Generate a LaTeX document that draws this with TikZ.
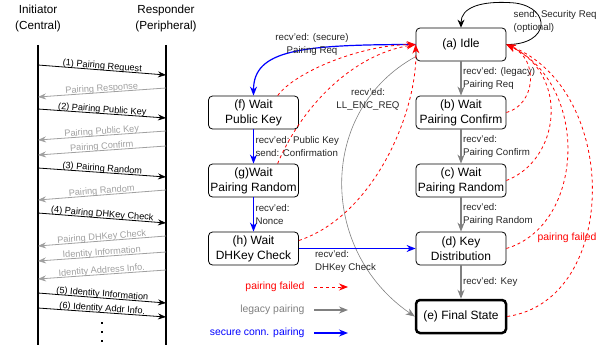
\documentclass[tikz,border=0pt]{standalone}
\usepackage{fontspec}
\setmainfont{Liberation Sans}
\usepackage{tikz}
\usepackage{xcolor}
\usetikzlibrary{arrows.meta}

\definecolor{failred}{HTML}{FF0000}
\definecolor{legacygray}{HTML}{808080}
\definecolor{secureblue}{HTML}{0000FF}
\definecolor{replygray}{HTML}{A0A0A0}

\begin{document}
\begin{tikzpicture}[x=1pt, y=-1pt, node distance=68pt,
    state/.style={rectangle, draw=black, line width=0.8pt, rounded corners=4pt, minimum width=90pt, minimum height=33pt, inner sep=1pt, align=center, font=\fontsize{12}{15}\selectfont},
    lbl/.style={align=left, inner sep=1.5pt, text=black!85, font=\fontsize{9.7}{13}\selectfont},
    title/.style={align=center, font=\fontsize{11.7}{16}\selectfont},
    legtxt/.style={anchor=east, font=\fontsize{10.4}{12}\selectfont},
    msg/.style={-{Stealth[length=8pt,width=6pt]}, line width=0.8pt},
    reply/.style={msg, replygray},
    msglbl/.style={sloped, above=-1pt, inner sep=0pt, font=\fontsize{9.2}{11}\selectfont},
    legacy/.style={-{Stealth[length=9pt,width=7pt]}, line width=1.2pt, legacygray},
    secure/.style={-{Stealth[length=9pt,width=7pt]}, line width=1.2pt, secureblue},
    fail/.style={-{Stealth[length=9pt,width=7pt]}, line width=0.8pt, failred, dash pattern=on 3pt off 3pt},
    lifeline/.style={line width=2pt}]
    \useasboundingbox (0,0) rectangle (605,345);

    % message sequence
    \node[title] (ini) at (38,18) {Initiator\\(Central)};
    \node[title] (resp) at (166,18) {Responder\\(Peripheral)};
    \coordinate (initop) at (38,45);
    \coordinate (inibot) at (38,345);
    \coordinate (resptop) at (166,45);
    \coordinate (respbot) at (166,345);
    \draw[lifeline] (initop) -- (inibot);
    \draw[lifeline] (resptop) -- (respbot);

    \draw[msg] (38,65) -- node[msglbl] {(1) Pairing Request} (166,75);
    \draw[reply] (166,88) -- node[msglbl] {Pairing Response} (38,97);
    \draw[msg] (38,109) -- node[msglbl] {(2) Pairing Public Key} (166,118);
    \draw[reply] (166,131) -- node[msglbl] {Pairing Public Key} (38,140);
    \draw[reply] (166,146) -- node[msglbl] {Pairing Confirm} (38,155);
    \draw[msg] (38,168) -- node[msglbl] {(3) Pairing Random} (166,177);
    \draw[reply] (166,190) -- node[msglbl] {Pairing Random} (38,200);
    \draw[msg] (38,213) -- node[msglbl] {(4) Pairing DHKey Check} (166,223);
    \draw[reply] (166,236) -- node[msglbl] {Pairing DHKey Check} (38,246);
    \draw[reply] (166,252) -- node[msglbl] {Identity Information} (38,261);
    \draw[reply] (166,270) -- node[msglbl] {Identity Address Info.} (38,279);
    \draw[msg] (38,293) -- node[msglbl] {(5) Identity Information} (166,303);
    \draw[msg] (38,308) -- node[msglbl] {(6) Identity Addr Info.} (166,317);
    \fill (101,322) rectangle (103,324);
    \fill (101,331) rectangle (103,333);
    \fill (101,340) rectangle (103,342);

    % state machine
    \node[state] (idle) at (461,44.5) {(a) Idle};
    \node[state] (waitconf) [below of=idle] {(b) Wait\\Pairing Confirm};
    \node[state] (waitrand) [below of=waitconf] {(c) Wait\\Pairing Random};
    \node[state] (keydist) [below of=waitrand] {(d) Key\\Distribution};
    \node[state, line width=2.5pt] (final) [below of=keydist] {(e) Final State};
    \node[state] (waitpk) at (253.5,112.5) {(f) Wait\\Public Key};
    \node[state] (waitnonce) [below of=waitpk] {(g)Wait\\Pairing Random};
    \node[state] (waitdh) [below of=waitnonce] {(h) Wait\\DHKey Check};

    \draw[-{Stealth[length=8pt,width=7pt]}, line width=0.8pt] (idle.east) .. controls (550,45) and (552,8) .. (515,3) .. controls (480,0) and (461,8) .. (idle.north);
    \node[lbl, anchor=west] (secreq) at (512,21) {send: Security Req\\(optional)};

    \draw[legacy] (idle) -- node[lbl, right] {recv'ed: (legacy)\\Pairing Req} (waitconf);
    \draw[legacy] (waitconf) -- node[lbl, right] {recv'ed:\\Pairing Confirm} (waitrand);
    \draw[legacy] (waitrand) -- node[lbl, right] {recv'ed:\\Pairing Random} (keydist);
    \draw[legacy] (keydist) -- node[lbl, right] {recv'ed: Key} (final);
    \draw[legacy, line width=0.6pt] (idle.195) .. controls (318,110) and (318,250) .. (final.west);
    \node[lbl, align=center] (encreq) at (368,99) {recv'ed:\\LL\_ENC\_REQ};

    \draw[secure] (idle.west) .. controls (300,44.5) and (253.5,50) .. (waitpk.north);
    \node[lbl, align=center] (securereq) at (312,44.5) {recv'ed: (secure)\\Pairing Req};
    \draw[secure] (waitpk) -- node[lbl, right] {recv'ed: Public Key\\send: Confirmation} (waitnonce);
    \draw[secure] (waitnonce) -- node[lbl, right] {recv'ed:\\Nonce} (waitdh);
    \draw[secure] (waitdh) -- node[lbl, below right, pos=0.12] {recv'ed:\\DHKey Check} (keydist);

    % pairing failed
    \draw[fail] (waitpk.35) .. controls (295,72) and (360,45) .. (idle.west);
    \draw[fail] (waitnonce.35) .. controls (300,110) and (350,55) .. (idle.west);
    \draw[fail] (waitdh.10) .. controls (375,215) and (418,110) .. (idle.west);
    \draw[fail] (waitconf.east) .. controls (535,105) and (540,60) .. (idle.east);
    \draw[fail] (waitrand.east) .. controls (560,160) and (570,75) .. (idle.east);
    \draw[fail] (keydist.east) .. controls (585,225) and (590,85) .. (idle.east);
    \draw[fail] (final.east) .. controls (620,300) and (620,90) .. (idle.east);
    \node[font=\fontsize{10.4}{12}\selectfont, text=failred] (faillbl) at (567,238) {pairing failed};

    % legend
    \node[legtxt, text=failred] (lgfail) at (308,287) {pairing failed};
    \node[legtxt, text=legacygray] (lglegacy) at (308,310) {legacy pairing};
    \node[legtxt, text=secureblue] (lgsecure) at (308,333) {secure conn. pairing};
    \coordinate (lgfailend) at (348,287);
    \coordinate (lglegacyend) at (348,310);
    \coordinate (lgsecureend) at (348,333);
    \draw[fail] ([xshift=6pt]lgfail.east) -- (lgfailend);
    \draw[legacy] ([xshift=6pt]lglegacy.east) -- (lglegacyend);
    \draw[secure] ([xshift=6pt]lgsecure.east) -- (lgsecureend);
\end{tikzpicture}
\end{document}
